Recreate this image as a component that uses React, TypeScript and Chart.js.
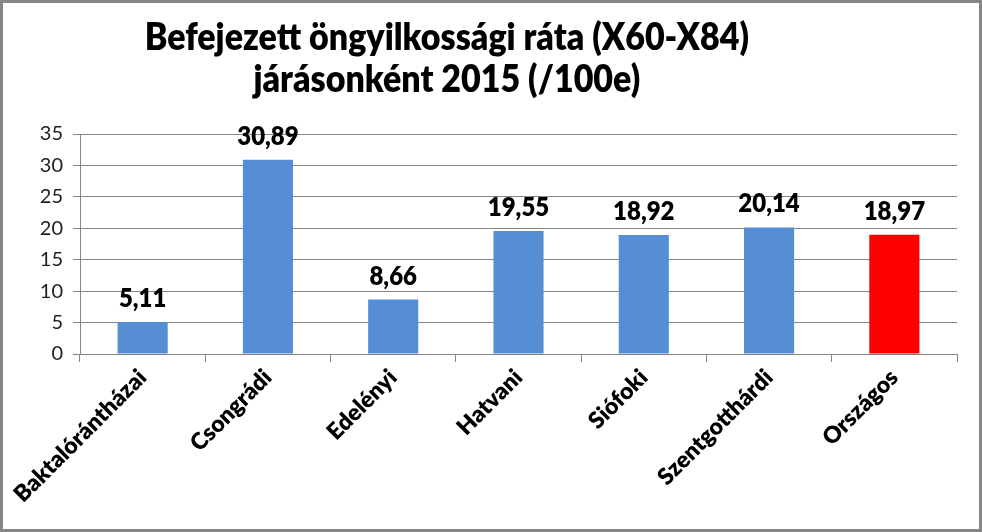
import React, { useEffect, useRef } from "react";
import { Chart, registerables } from "chart.js";

Chart.register(...registerables);

const TITLE_LINES = ["Befejezett öngyilkossági ráta (X60-X84)", "járásonként 2015 (/100e)"];
const CATEGORIES = ["Baktalórántházai", "Csongrádi", "Edelényi", "Hatvani", "Siófoki", "Szentgotthárdi", "Országos"];
const VALUES = [5.11, 30.89, 8.66, 19.55, 18.92, 20.14, 18.97];
const BAR_COLORS = ["#558ED5", "#558ED5", "#558ED5", "#558ED5", "#558ED5", "#558ED5", "#FF0000"];
const Y_MIN = 0;
const Y_MAX = 35;
const Y_STEP = 5;

const FONT = "Lato, 'Open Sans', sans-serif";

const fmt = (v: number) => v.toFixed(2).replace(".", ",");

const decorPlugin = {
  id: "decor",
  afterDraw(chart: any) {
    const ctx = chart.ctx as CanvasRenderingContext2D;
    const W = chart.width;
    const H = chart.height;
    // title
    ctx.save();
    ctx.fillStyle = "#000";
    ctx.textAlign = "center";
    ctx.textBaseline = "alphabetic";
    ctx.font = `800 34px ${FONT}`;
    const cx = W * 0.455;
    const baselines = [50, 92];
    TITLE_LINES.forEach((t, i) => {
      ctx.save();
      ctx.translate(cx, baselines[i]);
      ctx.scale(1, 1.12);
      ctx.fillText(t, 0, 0);
      ctx.restore();
    });
    ctx.restore();
    // border
    ctx.save();
    ctx.strokeStyle = "#868686";
    ctx.lineWidth = 3;
    ctx.strokeRect(1.5, 1.5, W - 3, H - 3);
    ctx.restore();
  },
  afterDatasetsDraw(chart: any) {
    const ctx = chart.ctx as CanvasRenderingContext2D;
    const meta = chart.getDatasetMeta(0);
    ctx.save();
    ctx.fillStyle = "#000";
    ctx.textAlign = "center";
    ctx.textBaseline = "alphabetic";
    ctx.font = `800 24px ${FONT}`;
    meta.data.forEach((el: any, i: number) => {
      ctx.save();
      ctx.translate(el.x, el.y - 15);
      ctx.scale(1, 1.08);
      ctx.fillText(fmt(VALUES[i]), 0, 0);
      ctx.restore();
    });
    ctx.restore();
  },
};

export default function App() {
  const ref = useRef<HTMLCanvasElement | null>(null);
  useEffect(() => {
    document.body.style.margin = "0";
    const canvas = ref.current!;
    const chart = new Chart(canvas, {
      type: "bar",
      data: {
        labels: CATEGORIES,
        datasets: [
          {
            data: VALUES,
            backgroundColor: BAR_COLORS,
            borderWidth: 0,
            categoryPercentage: 0.8,
            barPercentage: 0.5,
          },
        ],
      },
      options: {
        responsive: false,
        animation: false,
        devicePixelRatio: 1,
        layout: { padding: { left: 0, top: 134, right: 25, bottom: 0 } },
        plugins: {
          legend: { display: false },
          title: { display: false },
          tooltip: { enabled: false },
        },
        scales: {
          x: {
            afterFit: (s: any) => {
              s.height = 178;
            },
            grid: {
              display: true,
              drawOnChartArea: false,
              drawTicks: true,
              tickLength: 8,
              color: "#868686",
              offset: true,
            },
            border: { display: true, color: "#868686", width: 1 },
            ticks: {
              minRotation: 45,
              maxRotation: 45,
              autoSkip: false,
              padding: 2,
              color: "#000",
              font: { family: FONT, size: 23, weight: "800" },
            },
          },
          y: {
            min: Y_MIN,
            max: Y_MAX,
            afterFit: (s: any) => {
              s.width = 80;
            },
            grid: {
              color: "#868686",
              tickLength: 7,
            },
            border: { display: true, color: "#868686", width: 1 },
            ticks: {
              stepSize: Y_STEP,
              padding: 10,
              color: "#222",
              font: { family: FONT, size: 20 },
            },
          },
        },
      },
      plugins: [decorPlugin],
    });
    return () => chart.destroy();
  }, []);
  return (
    <div style={{ width: 982, height: 532 }}>
      <canvas ref={ref} width={982} height={532} style={{ display: "block" }} />
    </div>
  );
}
